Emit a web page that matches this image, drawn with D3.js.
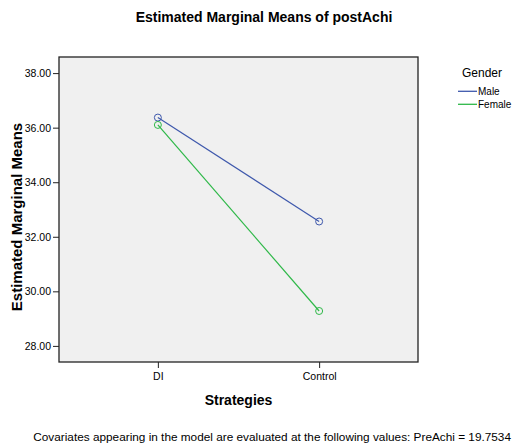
<!DOCTYPE html>
<html>
<head>
<meta charset="utf-8">
<script src="https://cdn.jsdelivr.net/npm/d3@7"></script>
<style>
  body { margin: 0; background: #fff; }
  text { font-family: "Liberation Sans", Arial, sans-serif; fill: #000; }
</style>
</head>
<body>
<svg id="chart" width="514" height="443"></svg>
<script>
// data
const strategies = ["DI", "Control"];
const genders = ["Male", "Female"];
const maleMeans = [36.37, 32.56];
const femaleMeans = [36.10, 29.28];
const yTicks = [28, 30, 32, 34, 36, 38];
const genderColors = ["#3e58ac", "#2eb848"];

const svg = d3.select("#chart");

// plot frame
const plotL = 59, plotR = 418, plotT = 57, plotB = 362;

const x = d3.scalePoint().domain(strategies).range([plotL, plotR]).padding(0.613);
const y = d3.scaleLinear().domain([27.41, 38.59]).range([plotB, plotT]);

svg.append("rect")
    .attr("x", plotL).attr("y", plotT)
    .attr("width", plotR - plotL).attr("height", plotB - plotT)
    .attr("fill", "#f0f0f0")
    .attr("stroke", "#222").attr("stroke-width", 1.3);

// axes
const yAxis = svg.append("g")
    .attr("transform", `translate(${plotL},0)`)
    .call(d3.axisLeft(y).tickValues(yTicks).tickFormat(d3.format(".2f")).tickSize(6).tickPadding(2));
yAxis.select(".domain").remove();
yAxis.selectAll("line").attr("stroke", "#222");
yAxis.selectAll("text").style("font-size", "10.5px").attr("fill", "#000").style("font-family", "Liberation Sans, Arial, sans-serif");

const xAxis = svg.append("g")
    .attr("transform", `translate(0,${plotB})`)
    .call(d3.axisBottom(x).tickSize(6).tickPadding(5));
xAxis.select(".domain").remove();
xAxis.selectAll("line").attr("stroke", "#222");
xAxis.selectAll("text").style("font-size", "10.5px").attr("fill", "#000").style("font-family", "Liberation Sans, Arial, sans-serif");

// lines and markers
const series = [maleMeans, femaleMeans];
const line = d3.line().x((d, i) => x(strategies[i])).y(d => y(d));

series.forEach((vals, k) => {
    svg.append("path")
        .attr("d", line(vals))
        .attr("fill", "none")
        .attr("stroke", genderColors[k])
        .attr("stroke-width", 1.2);
    svg.selectAll(null)
        .data(vals).join("circle")
        .attr("cx", (d, i) => x(strategies[i]))
        .attr("cy", d => y(d))
        .attr("r", 3.5)
        .attr("fill", "none")
        .attr("stroke", genderColors[k])
        .attr("stroke-width", 1);
});

// titles
svg.append("text")
    .attr("x", 264).attr("y", 22)
    .attr("text-anchor", "middle")
    .style("font-size", "14px").style("font-weight", "bold")
    .text("Estimated Marginal Means of postAchi");

svg.append("text")
    .attr("transform", "translate(22,217) rotate(-90)")
    .attr("text-anchor", "middle")
    .style("font-size", "15px").style("font-weight", "bold")
    .text("Estimated Marginal Means");

svg.append("text")
    .attr("x", (plotL + plotR) / 2).attr("y", 405)
    .attr("text-anchor", "middle")
    .style("font-size", "14px").style("font-weight", "bold")
    .text("Strategies");

svg.append("text")
    .attr("x", 511).attr("y", 441)
    .attr("text-anchor", "end")
    .style("font-size", "11.8px")
    .text("Covariates appearing in the model are evaluated at the following values: PreAchi = 19.7534");

// legend
const legend = svg.append("g");
legend.append("text")
    .attr("x", 482).attr("y", 77)
    .attr("text-anchor", "middle")
    .style("font-size", "12px")
    .text("Gender");

genders.forEach((g, k) => {
    const ly = 91.3 + k * 13;
    legend.append("line")
        .attr("x1", 458).attr("x2", 477)
        .attr("y1", ly).attr("y2", ly)
        .attr("stroke", genderColors[k]).attr("stroke-width", 1.3);
    legend.append("text")
        .attr("x", 478).attr("y", ly + 3.5)
        .style("font-size", "10px")
        .text(g);
});
</script>
</body>
</html>
